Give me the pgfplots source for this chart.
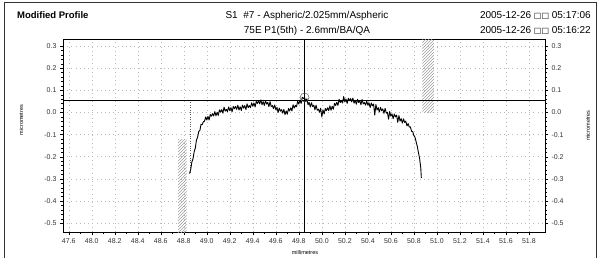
\documentclass[border=0pt]{standalone}
\usepackage{pgfplots}
\pgfplotsset{compat=1.18}
\usepackage{fontspec}
\setmainfont{Liberation Sans}
\newfontfamily\dejavu{DejaVu Sans}
\usetikzlibrary{patterns}

\pgfplotsset{
  profbase/.style={
    at={(63pt,26pt)}, anchor=south west,
    width=482pt, height=193pt, scale only axis,
    xmin=47.75, xmax=51.94, ymin=-0.54, ymax=0.332,
    ytick={-0.5,-0.4,-0.3,-0.2,-0.1,0.0,0.1,0.2,0.3},
    yticklabels={-0.5,-0.4,-0.3,-0.2,-0.1,0.0,0.1,0.2,0.3},
    minor y tick num=4,
    tick align=outside,
    major tick length=3pt, minor tick length=1.5pt,
    tick label style={font=\fontsize{7}{8}\selectfont, text=black!80},
    label style={font=\fontsize{5.5}{6}\selectfont},
    axis line style={black, line width=0.6pt},
    tick style={black, line width=0.4pt},
  }
}

\begin{document}
\begin{tikzpicture}
\useasboundingbox (0,0) rectangle (598pt,258pt);

\begin{axis}[profbase,
  xtick={47.8,48.0,48.2,48.4,48.6,48.8,49.0,49.2,49.4,49.6,49.8,50.0,50.2,50.4,50.6,50.8,51.0,51.2,51.4,51.6,51.8},
  xticklabels={47.6,48.0,48.2,48.4,48.6,48.8,49.0,49.2,49.4,49.6,49.8,50.0,50.2,50.4,50.6,50.8,51.0,51.2,51.4,51.6,51.8},
  minor x tick num=1,
  xtick pos=bottom, ytick pos=left,
  grid=major,
  major grid style={gray!55, line width=0.5pt, dash pattern=on 0.7pt off 3.5pt},
  xlabel={millimetres}, ylabel={micrometres},
  every axis x label/.append style={at={(axis description cs:0.502,-0.104)}, anchor=center},
  every axis y label/.append style={at={(axis description cs:-0.087,0.58)}, anchor=center},
  clip=true,
]
% hatched limit zones
\addplot[draw=none, pattern=north east lines, pattern color=gray!75] coordinates {(48.75,-0.54) (48.825,-0.54) (48.825,-0.12) (48.75,-0.12)} -- cycle;
\addplot[draw=none, pattern=north east lines, pattern color=gray!75] coordinates {(50.875,0.0) (50.975,0.0) (50.975,0.332) (50.875,0.332)} -- cycle;
% dotted start marker
\addplot[gray!70!black, line width=0.5pt, dash pattern=on 0.8pt off 1.6pt] coordinates {(48.855,0.056) (48.855,-0.28)};
% reference lines
\addplot[black, line width=0.9pt] coordinates {(47.75,0.056) (51.94,0.056)};
\addplot[black, line width=0.8pt] coordinates {(49.85,-0.54) (49.85,0.332)};
% profile
\addplot[black, line width=0.9pt, line join=round] coordinates {
(48.85,-0.276)(48.86,-0.258)(48.87,-0.224)(48.88,-0.210)(48.89,-0.178)(48.90,-0.161)
(48.91,-0.125)(48.92,-0.112)(48.93,-0.086)(48.94,-0.081)(48.95,-0.053)(48.96,-0.055)
(48.97,-0.042)(48.98,-0.040)(48.99,-0.020)(49.00,-0.034)(49.01,-0.018)(49.02,-0.034)
(49.03,-0.009)(49.04,-0.017)(49.05,-0.005)(49.06,-0.016)(49.07,0.004)(49.08,-0.015)
(49.09,0.001)(49.10,-0.013)(49.11,0.012)(49.12,0.001)(49.13,0.013)(49.14,-0.003)
(49.15,0.024)(49.16,0.006)(49.17,0.014)(49.18,0.004)(49.19,0.025)(49.20,0.008)
(49.21,0.022)(49.22,0.003)(49.23,0.027)(49.24,0.017)(49.25,0.028)(49.26,0.014)
(49.27,0.033)(49.28,0.011)(49.29,0.026)(49.30,0.009)(49.31,0.033)(49.32,0.020)
(49.33,0.031)(49.34,0.013)(49.35,0.039)(49.36,0.022)(49.37,0.031)(49.38,0.022)
(49.39,0.044)(49.40,0.028)(49.41,0.043)(49.42,0.025)(49.43,0.050)(49.44,0.041)
(49.45,0.053)(49.46,0.039)(49.47,0.057)(49.48,0.035)(49.49,0.049)(49.50,0.032)
(49.51,0.053)(49.52,0.038)(49.53,0.046)(49.54,0.026)(49.55,0.049)(49.56,0.027)
(49.57,0.031)(49.58,0.017)(49.59,0.034)(49.60,0.013)(49.61,0.023)(49.62,0.000)
(49.63,0.020)(49.64,0.006)(49.65,0.013)(49.66,-0.003)(49.67,0.014)(49.68,-0.010)
(49.69,0.007)(49.70,-0.008)(49.71,0.018)(49.72,0.007)(49.73,0.021)(49.74,0.007)
(49.75,0.035)(49.76,0.020)(49.77,0.032)(49.78,0.026)(49.79,0.051)(49.80,0.038)
(49.81,0.056)(49.82,0.041)(49.83,0.069)(49.84,0.063)(49.85,0.068)(49.86,0.049)
(49.87,0.062)(49.88,0.035)(49.89,0.045)(49.90,0.025)(49.91,0.044)(49.92,0.027)
(49.93,0.033)(49.94,0.012)(49.95,0.033)(49.96,0.010)(49.97,0.015)(49.98,0.001)
(49.99,0.019)(50.00,-0.020)(50.01,0.012)(50.02,-0.007)(50.03,0.018)(50.04,0.008)
(50.05,0.021)(50.06,0.009)(50.07,0.030)(50.08,0.010)(50.09,0.028)(50.10,0.015)
(50.11,0.041)(50.12,0.032)(50.13,0.046)(50.14,0.032)(50.15,0.060)(50.16,0.045)
(50.17,0.053)(50.18,0.043)(50.19,0.072)(50.20,0.048)(50.21,0.061)(50.22,0.041)
(50.23,0.064)(50.24,0.053)(50.25,0.063)(50.26,0.048)(50.27,0.065)(50.28,0.042)
(50.29,0.055)(50.30,0.037)(50.31,0.059)(50.32,0.045)(50.33,0.054)(50.34,0.035)
(50.35,0.059)(50.36,0.039)(50.37,0.045)(50.38,0.033)(50.39,0.052)(50.40,0.033)
(50.41,0.044)(50.42,0.022)(50.43,0.043)(50.44,0.030)(50.45,0.038)(50.46,-0.012)
(50.47,0.036)(50.48,0.011)(50.49,0.022)(50.50,0.002)(50.51,0.023)(50.52,0.008)
(50.53,0.016)(50.54,-0.004)(50.55,0.019)(50.56,-0.003)(50.57,0.001)(50.58,-0.030)
(50.59,0.004)(50.60,-0.017)(50.61,-0.006)(50.62,-0.028)(50.63,-0.007)(50.64,-0.020)
(50.65,-0.012)(50.66,-0.045)(50.67,-0.014)(50.68,-0.039)(50.69,-0.028)(50.70,-0.048)
(50.71,-0.029)(50.72,-0.045)(50.73,-0.039)(50.74,-0.061)(50.75,-0.050)(50.76,-0.066)
(50.77,-0.065)(50.78,-0.085)(50.79,-0.086)(50.80,-0.104)(50.81,-0.112)(50.82,-0.133)
(50.83,-0.153)(50.84,-0.182)(50.85,-0.208)(50.86,-0.250)(50.865,-0.295)
};
% peak marker
\addplot[only marks, mark=o, mark size=4.5pt, gray!70!black, mark options={line width=0.5pt}] coordinates {(49.85,0.068)};
\end{axis}

\begin{axis}[profbase,
  axis x line=none,
  axis y line*=right,
  ytick pos=right, yticklabel pos=right,
  ylabel={micrometres},
  every axis y label/.append style={at={(axis description cs:1.089,0.55)}, anchor=center, rotate=0},
]
\addplot[draw=none] coordinates {(48,0)};
\end{axis}

% header
\node[anchor=base west, font=\bfseries\fontsize{9.5}{11}\selectfont, inner sep=0pt] at (17pt,240pt) {Modified Profile};
\node[anchor=base, font=\fontsize{10}{12}\selectfont, inner sep=0pt] at (307pt,240pt) {S1\ \ \#7 - Aspheric/2.025mm/Aspheric};
\node[anchor=base, font=\fontsize{10}{12}\selectfont, inner sep=0pt] at (307pt,225pt) {75E P1(5th) - 2.6mm/BA/QA};
\node[anchor=base east, font=\fontsize{10}{12}\selectfont, inner sep=0pt] at (591pt,240pt) {2005-12-26 {\dejavu\fontsize{8}{9}\selectfont □□} 05:17:06};
\node[anchor=base east, font=\fontsize{10}{12}\selectfont, inner sep=0pt] at (591pt,225pt) {2005-12-26 {\dejavu\fontsize{8}{9}\selectfont □□} 05:16:22};
% frame
\draw[black!80, line width=0.6pt] (4pt,0pt) -- (4pt,256pt) -- (596pt,256pt) -- (596pt,0pt);
\end{tikzpicture}
\end{document}
